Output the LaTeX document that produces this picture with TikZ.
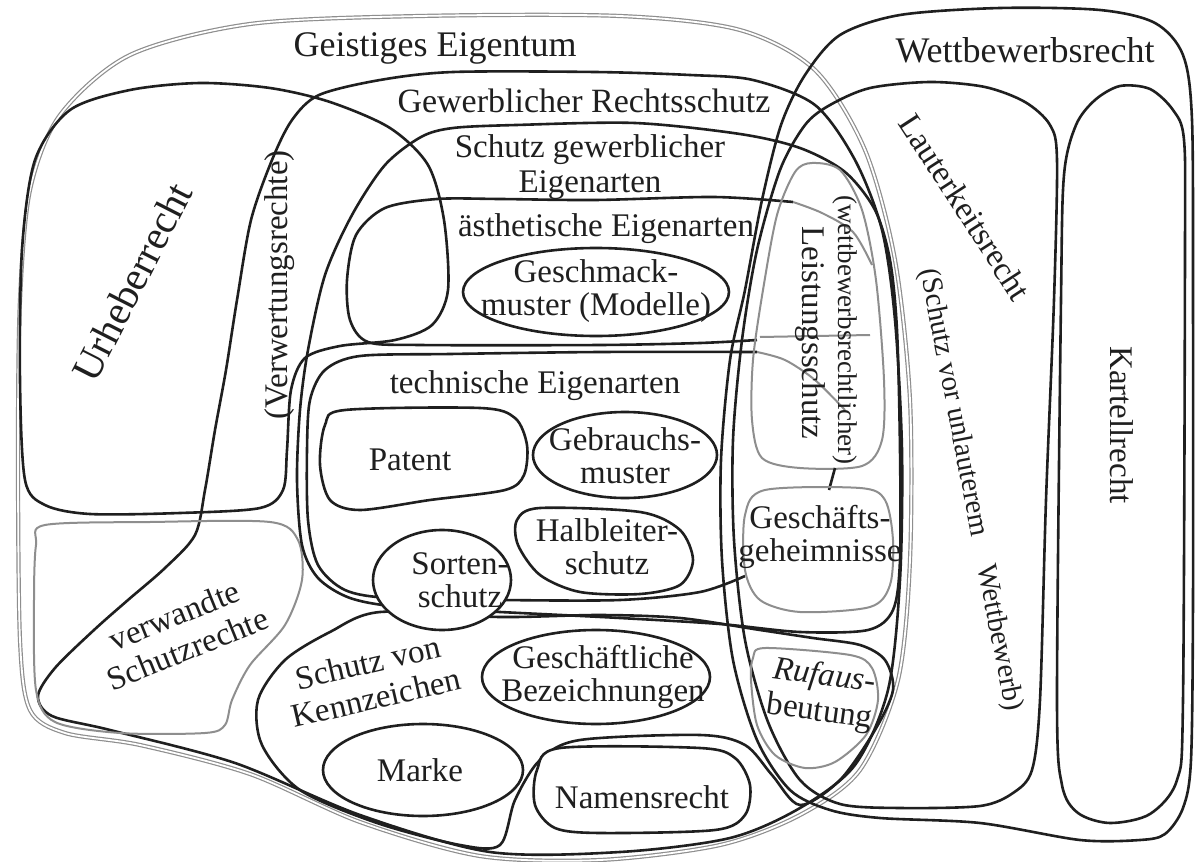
\documentclass[tikz,border=0pt]{standalone}
\usepackage{fontspec}
\setmainfont{Liberation Serif}
\definecolor{ipInk}{HTML}{1F1F1F}
\definecolor{ipGrey}{HTML}{8E8E8E}
\begin{document}
\begin{tikzpicture}[x=0.5pt, y=-0.5pt,
  area/.style={draw=ipInk, line width=1.3pt, line join=round},
  soft/.style={draw=ipGrey, line width=1pt},
  outer/.style={draw=ipGrey, line width=0.6pt, double=white, double distance=0.9pt},
  inner/.style={area, fill=white},
  lbl/.style={font=\fontsize{16.5}{16.5}\selectfont, align=center, inner sep=0pt, text=ipInk},
  head/.style={lbl, font=\fontsize{18}{20}\selectfont},
  tilt/.style={lbl, font=\fontsize{16.5}{18}\selectfont},
]
\useasboundingbox (0,0) rectangle (1196,862);
\fill[white] (0,0) rectangle (1196,862);

% Geistiges Eigentum
\draw[outer] plot[smooth cycle] coordinates {(18,450) (20,300) (30,190) (60,115) (130,55) (250,24) (420,16) (620,16) (740,30) (815,70) (865,150) (895,260) (910,400) (910,560) (898,680) (860,770) (800,815) (720,845) (600,860) (480,856) (360,822) (250,774) (140,745) (65,733) (30,710) (20,640)};

% Wettbewerbsrecht, Lauterkeitsrecht, Kartellrecht
\draw[area] plot[smooth cycle] coordinates {(805,75) (840,35) (900,15) (1000,8) (1100,10) (1155,23) (1183,55) (1192,120) (1193,300) (1193,600) (1191,760) (1183,808) (1165,834) (1140,840) (1080,840) (980,823) (880,818) (830,810) (790,790) (757,740) (733,660) (722,560) (721,460) (730,360) (745,290) (762,200) (781,125)};
\draw[area] plot[smooth cycle] coordinates {(830,105) (870,88) (930,82) (985,87) (1025,102) (1050,125) (1057,160) (1054,300) (1046,500) (1040,700) (1032,770) (1013,793) (980,806) (900,808) (840,804) (800,780) (768,722) (745,640) (734,540) (733,440) (742,340) (757,250) (780,170) (805,125)};
\draw[area] plot[smooth cycle] coordinates {(1120,86) (1150,89) (1173,110) (1184,140) (1185,250) (1183,700) (1177,780) (1150,814) (1110,823) (1078,813) (1062,785) (1057,700) (1061,300) (1064,175) (1076,125) (1095,100)};

% Gewerblicher Rechtsschutz
\draw[area] plot[smooth cycle] coordinates {(453,72) (595,72) (690,75) (753,80) (815,105) (855,160) (882,230) (895,320) (902,450) (900,580) (888,690) (855,765) (800,808) (730,838) (620,852) (490,852) (360,815) (235,763) (110,730) (52,716) (38,696) (55,668) (94,630) (128,600) (165,568) (195,535) (205,490) (215,430) (226,370) (237,300) (251,220) (272,160) (292,120) (319,95) (380,80)};

% Urheberrecht
\draw[area] plot[smooth cycle] coordinates {(20,380) (22,250) (35,160) (70,110) (130,90) (200,83) (270,88) (330,102) (390,128) (428,165) (444,220) (448,290) (432,325) (395,340) (340,346) (305,358) (291,390) (287,450) (283,490) (260,508) (180,513) (90,514) (45,505) (25,480)};

% verwandte Schutzrechte
\draw[soft] plot[smooth cycle] coordinates {(45,525) (150,522) (270,522) (298,540) (302,580) (285,625) (250,665) (232,700) (225,725) (205,733) (120,733) (55,722) (36,690) (34,600) (36,545)};

% Schutz gewerblicher Eigenarten
\draw[area] plot[smooth cycle] coordinates {(453,128) (516,125) (635,123) (740,134) (800,148) (845,172) (875,210) (890,260) (897,330) (900,450) (900,560) (893,610) (868,630) (800,632) (720,624) (620,618) (500,612) (400,607) (350,598) (318,578) (302,545) (297,480) (300,410) (308,350) (325,275) (352,215) (385,165) (421,137)};

% aesthetische und technische Eigenarten
\draw[area] plot[smooth] coordinates {(793,202) (714,197) (595,200) (500,199) (437,199) (385,208) (356,235) (347,280) (350,320) (368,342) (420,345) (600,345) (700,343) (757,340)};
\draw[area] plot[smooth] coordinates {(757,352) (600,352) (450,354) (360,356) (325,370) (310,400) (307,450) (308,520) (318,565) (345,590) (390,598) (500,600) (620,600) (700,592) (745,576)};

% Schutz von Kennzeichen
\draw[area] plot[smooth cycle] coordinates {(380,612) (330,632) (285,660) (258,700) (262,745) (300,790) (377,823) (460,845) (500,845) (515,800) (540,760) (580,740) (700,735) (745,745) (772,775) (800,805) (840,780) (875,730) (893,690) (885,660) (860,645) (813,638) (760,630) (680,618) (600,615) (500,617)};

% Leistungsschutz und Nachbarn
\draw[soft] plot[smooth cycle] coordinates {(812,163) (840,170) (862,210) (876,280) (884,380) (882,440) (862,466) (800,468) (762,458) (752,420) (753,360) (763,290) (777,215) (795,172)};
\draw[soft] (760,337) -- (870,335);
\draw[soft] plot[smooth] coordinates {(793,202) (822,213) (853,232) (872,265)};
\draw[soft] plot[smooth] coordinates {(757,352) (785,360) (815,380) (845,410)};
\draw[area] (835,468) -- (829,490);
\draw[soft] plot[smooth cycle] coordinates {(765,490) (860,488) (885,500) (893,540) (890,585) (870,607) (800,612) (760,600) (745,570) (745,515)};
\draw[soft] plot[smooth cycle] coordinates {(765,648) (850,655) (872,668) (878,700) (866,735) (835,762) (805,768) (775,755) (757,725) (751,680) (753,658)};

% Einzelrechte
\draw[inner] (596,292) ellipse [x radius=133, y radius=44];
\draw[inner] plot[smooth cycle] coordinates {(345,410) (480,408) (515,418) (527,445) (524,475) (505,490) (430,500) (360,510) (330,500) (320,465) (325,425)};
\draw[inner] (625,455) ellipse [x radius=92, y radius=43];
\draw[inner] plot[smooth cycle] coordinates {(540,508) (640,512) (680,530) (693,560) (680,585) (640,594) (580,592) (540,575) (518,545) (517,520)};
\draw[inner] (442,580) ellipse [x radius=69, y radius=50];
\draw[inner] (596,677) ellipse [x radius=114, y radius=47];
\draw[inner] (423,770) ellipse [x radius=100, y radius=46];
\draw[inner] plot[smooth cycle] coordinates {(560,748) (700,748) (735,758) (750,785) (745,815) (715,830) (600,833) (555,828) (535,805) (537,770)};

\node[head] (geist) at (435,48) {Geistiges Eigentum};
\node[head] (wettbew) at (1025,50) {Wettbewerbsrecht};
\node[lbl, font=\fontsize{17}{17}\selectfont] (gewerbl) at (584,101) {Gewerblicher Rechtsschutz};
\node[lbl, font=\fontsize{16.5}{17.5}\selectfont] (schutzge) at (590,167) {Schutz gewerblicher\\Eigenarten};
\node[lbl] (aesth) at (606,229) {ästhetische Eigenarten};
\node[lbl] (geschm) at (596,291) {Geschmack-\\muster (Modelle)};
\node[lbl] (techn) at (535,386) {technische Eigenarten};
\node[lbl] (patent) at (410,460) {Patent};
\node[lbl] (gebrauch) at (625,456) {Gebrauchs-\\muster};
\node[lbl] (halbl) at (607,547) {Halbleiter-\\schutz};
\node[lbl] (sorten) at (460,580) {Sorten-\\schutz};
\node[tilt, rotate=22] (verwandt) at (181,632) {verwandte\\Schutzrechte};
\node[tilt, rotate=13] (kennz) at (372,680) {Schutz von\\Kennzeichen};
\node[lbl] (geschbez) at (603,677) {Geschäftliche\\Bezeichnungen};
\node[lbl] (marke) at (420,770) {Marke};
\node[lbl] (namens) at (642,797) {Namensrecht};
\node[lbl, font=\fontsize{20.5}{20.5}\selectfont, rotate=63] (urheber) at (132,282) {Urheberrecht};
\node[lbl, rotate=90] (verwert) at (280,285) {(Verwertungsrechte)};
\node[lbl, rotate=-90] (leistung) at (810,333) {Leistungsschutz};
\node[lbl, font=\fontsize{13.5}{13.5}\selectfont, rotate=-90] (wettbrecht) at (845,330) {(wettbewerbsrechtlicher)};
\node[lbl] (geheim) at (820,537) {Geschäfts-\\geheimnisse};
\node[tilt, rotate=-8] (rufaus) at (822,695) {\textit{Rufaus-}\\beutung};
\node[lbl, rotate=-57] (lauter) at (965,207) {Lauterkeitsrecht};
\node[lbl, font=\fontsize{14.5}{14.5}\selectfont, rotate=-79] (unlauter) at (970,490) {(Schutz vor unlauterem\hspace{1em}Wettbewerb)};
\node[lbl, rotate=-90] (kartell) at (1122,425) {Kartellrecht};
\end{tikzpicture}
\end{document}
